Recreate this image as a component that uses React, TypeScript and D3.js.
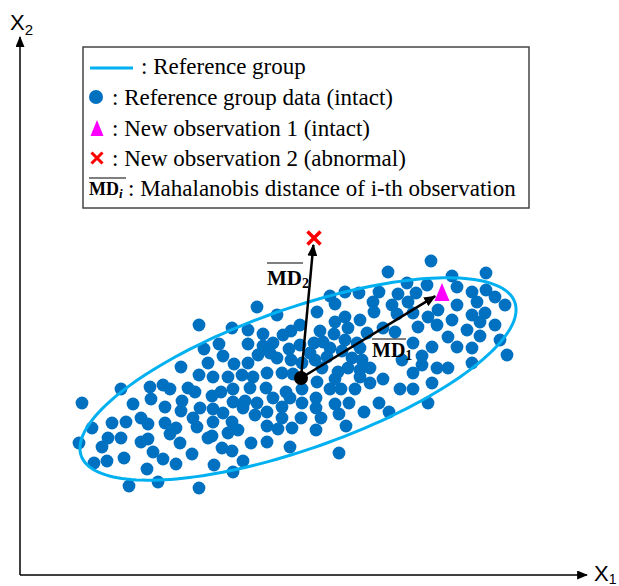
import React from "react";
import * as d3 from "d3";

// Reference group data (X1, X2)
const referenceData: [number, number][] = [
  [10.1, 18.6], [13.0, 18.8], [14.3, 19.0], [15.0, 18.6], [6.2, 17.2], [11.3, 17.1], [13.1, 17.6], [14.5, 16.8],
  [16.2, 17.4], [16.1, 16.4], [7.2, 14.7], [9.2, 15.2], [10.6, 15.3], [12.1, 15.7], [12.8, 15.1], [14.5, 15.2],
  [15.6, 14.7], [15.0, 14.1], [5.9, 13.2], [8.8, 13.7], [10.1, 13.7], [8.2, 12.8], [12.1, 13.3], [12.8, 13.6],
  [16.0, 13.2], [13.3, 12.3], [7.4, 11.2], [8.7, 11.4], [10.4, 11.7], [14.3, 11.6], [15.6, 11.1], [12.7, 10.6],
  [10.9, 8.9], [13.8, 9.3], [16.8, 18.7],
  [17.5, 18.3], [20.1, 18.3], [21.3, 18.6], [23.0, 18.7], [24.6, 18.7], [19.2, 17.9], [26.6, 18.3], [25.3, 17.7],
  [27.0, 17.7], [21.3, 17.3], [22.5, 17.4], [23.7, 17.2], [22.3, 16.7], [26.2, 16.8], [18.0, 16.7], [19.3, 16.6],
  [20.3, 16.2], [23.5, 16.0], [24.7, 16.3], [17.3, 15.7], [26.2, 15.7], [19.3, 15.3], [21.2, 15.3], [17.7, 14.8],
  [24.7, 14.9], [25.8, 14.6], [27.2, 14.7], [20.8, 14.2], [21.8, 14.5], [19.2, 13.9], [18.8, 13.7], [23.1, 13.2],
  [24.7, 13.3], [20.2, 12.7], [21.2, 12.4], [27.0, 12.8], [17.2, 12.1], [22.3, 11.4], [19.4, 11.0], [21.3, 10.3],
  [17.9, 8.7],
  [31.5, 19.6], [34.0, 19.8], [35.0, 19.2], [36.3, 19.6], [29.7, 19.3], [28.2, 18.6], [31.0, 18.6], [32.1, 18.6],
  [33.5, 18.6], [38.0, 18.6], [29.6, 17.7], [28.2, 17.2], [29.6, 16.7], [31.5, 17.1], [32.9, 17.2], [35.9, 17.2],
  [31.9, 16.1], [34.4, 16.3], [36.9, 16.3], [28.1, 15.7], [30.1, 15.7], [29.6, 14.5], [32.6, 14.9], [31.9, 12.2],
  [39.3, 18.6], [41.2, 19.2], [40.8, 17.2], [39.3, 20.2],
  [23.7, 26.8], [25.7, 26.0], [17.9, 25.0], [21.2, 24.7], [22.8, 24.5], [24.3, 24.1], [26.3, 24.0], [27.1, 24.4],
  [19.9, 23.1], [18.4, 22.6], [22.8, 23.1], [24.3, 22.9], [25.3, 23.2], [26.9, 22.6], [20.3, 21.9], [18.8, 21.2],
  [21.4, 21.1], [22.8, 21.2], [23.8, 22.0], [25.0, 22.2], [25.7, 21.7], [27.1, 21.5], [16.1, 20.8], [17.9, 20.0],
  [19.3, 19.8], [20.8, 19.8], [22.2, 20.0], [23.3, 19.8], [24.7, 20.2], [26.2, 20.2], [27.3, 20.1],
  [36.8, 30.3], [31.0, 27.9], [32.5, 28.3], [33.9, 28.2], [35.9, 28.3], [37.8, 28.1], [31.5, 27.1], [35.3, 27.3],
  [37.2, 27.0], [29.7, 26.3], [35.4, 26.3], [32.5, 25.8], [31.5, 25.3], [34.0, 25.5], [37.7, 26.1], [28.0, 25.0],
  [30.0, 24.4], [32.8, 24.7], [36.3, 24.7], [37.5, 24.3], [31.4, 24.1], [34.7, 24.2], [29.4, 23.2], [30.3, 23.3],
  [32.5, 23.5], [33.7, 23.2], [28.0, 23.0], [29.0, 22.2], [31.0, 22.7], [32.2, 22.4], [34.0, 22.7], [29.5, 21.5],
  [30.7, 21.8], [33.2, 21.7], [34.2, 21.5], [28.2, 21.2], [32.8, 20.7], [34.0, 20.5], [30.2, 20.7], [31.8, 20.3],
  [35.0, 20.7],
  [41.1, 31.4], [46.6, 30.2], [43.2, 29.9], [38.7, 29.2], [40.7, 29.0], [43.7, 28.8], [45.2, 28.3], [46.6, 28.5],
  [39.6, 28.2], [47.5, 27.8], [45.7, 27.3], [43.7, 27.0], [38.8, 27.3], [48.5, 27.0], [41.8, 26.5], [39.3, 26.2],
  [40.8, 25.8], [45.2, 26.0], [46.5, 26.2], [43.2, 25.5], [46.0, 25.3], [47.5, 25.0], [39.8, 24.8], [41.7, 25.0],
  [44.7, 24.5], [42.8, 23.8], [46.0, 23.9], [48.0, 23.5], [39.3, 23.2], [41.2, 22.8], [43.7, 22.8], [45.2, 22.7],
  [40.2, 21.9], [48.7, 22.0], [38.2, 21.5], [40.2, 21.0], [45.2, 21.2], [41.7, 20.7], [42.8, 20.7],
];

// Reference group ellipse: centre, semi-axes, rotation (degrees)
const ellipseCenter: [number, number] = [27.8, 19.6];
const ellipseAxes: [number, number] = [23, 7];
const ellipseAngle = 19.5;

// Group mean and new observations
const groupMean: [number, number] = [28.1, 19.7];
const newObservation1: [number, number] = [42.2, 28.3];
const newObservation2: [number, number] = [29.4, 33.7];

const legendLabels = [
  ": Reference group",
  ": Reference group data (intact)",
  ": New observation 1 (intact)",
  ": New observation 2 (abnormal)",
  ": Mahalanobis distance of i-th observation",
];

const X_DOMAIN: [number, number] = [0, 57];
const Y_DOMAIN: [number, number] = [0, 54];

const BLUE = "#0070C0";
const CYAN = "#00B0F0";
const MAGENTA = "#FF00FF";
const RED = "#FF0000";
const SERIF = "'Liberation Serif', 'Times New Roman', serif";
const SANS = "'Liberation Sans', Arial, sans-serif";

export default function App() {
  const W = 619;
  const H = 586;
  const x = d3.scaleLinear().domain(X_DOMAIN).range([20, 590]);
  const y = d3.scaleLinear().domain(Y_DOMAIN).range([575, 35]);

  const th = (ellipseAngle * Math.PI) / 180;
  const ts = d3.range(0, 2 * Math.PI, Math.PI / 90);
  const ellipsePts: [number, number][] = ts.map((t) => {
    const [a, b] = ellipseAxes;
    const ex = ellipseCenter[0] + a * Math.cos(t) * Math.cos(th) - b * Math.sin(t) * Math.sin(th);
    const ey = ellipseCenter[1] + a * Math.cos(t) * Math.sin(th) + b * Math.sin(t) * Math.cos(th);
    return [ex, ey];
  });
  const ellipsePath = d3
    .line<[number, number]>()
    .x((d) => x(d[0]))
    .y((d) => y(d[1]))
    .curve(d3.curveLinearClosed)(ellipsePts);

  const cx0 = x(groupMean[0]);
  const cy0 = y(groupMean[1]);
  const shorten = (p: [number, number], by: number) => {
    const px = x(p[0]);
    const py = y(p[1]);
    const dx = px - cx0;
    const dy = py - cy0;
    const L = Math.hypot(dx, dy);
    return [cx0 + (dx * (L - by)) / L, cy0 + (dy * (L - by)) / L];
  };
  const tip1 = shorten(newObservation1, 8);
  const tip2 = shorten(newObservation2, 7);

  const triPath = (cx: number, cy: number, w: number, h: number) =>
    `M${cx},${cy - h / 2} L${cx + w / 2},${cy + h / 2} L${cx - w / 2},${cy + h / 2} Z`;
  const crossPath = (cx: number, cy: number, s: number) =>
    `M${cx - s},${cy - s} L${cx + s},${cy + s} M${cx + s},${cy - s} L${cx - s},${cy + s}`;

  const ox = x(X_DOMAIN[0]);
  const oy = y(Y_DOMAIN[0]);
  const xEnd = x(X_DOMAIN[1]) - 3;
  const yEnd = y(Y_DOMAIN[1]) + 2;

  const n1x = x(newObservation1[0]);
  const n1y = y(newObservation1[1]);
  const n2x = x(newObservation2[0]);
  const n2y = y(newObservation2[1]);

  const rowY = [68, 97, 128, 158, 187];
  const baseY = [74, 105, 136, 166, 196];
  const textX = [141, 112, 112, 112, 128];

  return (
    <svg
      width={W}
      height={H}
      style={{ position: "absolute", left: 0, top: 0, background: "#fff" }}
    >
      <defs>
        <marker id="arr" viewBox="0 0 12 10" refX="11" refY="5" markerWidth="12" markerHeight="10"
          markerUnits="userSpaceOnUse" orient="auto">
          <path d="M0,0 L12,5 L0,10 Z" fill="#000" />
        </marker>
        <marker id="axarr" viewBox="0 0 12 10" refX="11" refY="5" markerWidth="12" markerHeight="9"
          markerUnits="userSpaceOnUse" orient="auto">
          <path d="M0,0 L12,5 L0,10 Z" fill="#000" />
        </marker>
      </defs>
      <rect x={0} y={0} width={W} height={H} fill="#fff" />

      {/* axes */}
      <line x1={ox} y1={oy} x2={xEnd} y2={oy} stroke="#000" strokeWidth={1.5} markerEnd="url(#axarr)" />
      <line x1={ox} y1={oy} x2={ox} y2={yEnd} stroke="#000" strokeWidth={1.5} markerEnd="url(#axarr)" />
      <text x={10} y={30} fontFamily={SANS} fontSize={22}>
        X<tspan fontSize={15} dy={5}>2</tspan>
      </text>
      <text x={594} y={581} fontFamily={SANS} fontSize={22}>
        X<tspan fontSize={14} dy={3}>1</tspan>
      </text>

      {/* data */}
      <g>
        {referenceData.map((d, i) => (
          <circle key={i} cx={x(d[0])} cy={y(d[1])} r={6.4} fill={BLUE} />
        ))}
      </g>
      <path d={ellipsePath || ""} fill="none" stroke={CYAN} strokeWidth={3} />

      {/* MD arrows */}
      <line x1={cx0} y1={cy0} x2={tip2[0]} y2={tip2[1]} stroke="#000" strokeWidth={2.5} markerEnd="url(#arr)" />
      <line x1={cx0} y1={cy0} x2={tip1[0]} y2={tip1[1]} stroke="#000" strokeWidth={2.5} markerEnd="url(#arr)" />
      <circle cx={cx0} cy={cy0} r={7} fill="#000" />
      <path d={triPath(n1x, n1y, 15, 18)} fill={MAGENTA} />
      <path d={crossPath(n2x, n2y, 6.5)} stroke={RED} strokeWidth={3.5} fill="none" />

      <text x={267} y={285} fontFamily={SERIF} fontSize={21} fontWeight="bold">
        MD<tspan fontSize={14} dy={3}>2</tspan>
      </text>
      <line x1={267} x2={303} y1={263} y2={263} stroke="#000" strokeWidth={1.2} />
      <text x={372} y={357} fontFamily={SERIF} fontSize={20} fontWeight="bold">
        MD<tspan fontSize={14} dy={3}>1</tspan>
      </text>
      <line x1={372} x2={406} y1={339} y2={339} stroke="#000" strokeWidth={1.2} />

      {/* legend */}
      <rect x={83} y={47} width={446} height={161} fill="#fff" stroke="#444" strokeWidth={1.5} />
      <line x1={90} x2={133} y1={rowY[0]} y2={rowY[0]} stroke={CYAN} strokeWidth={3} />
      <circle cx={96} cy={rowY[1]} r={7} fill={BLUE} />
      <path d={triPath(97, rowY[2], 13, 16)} fill={MAGENTA} />
      <path d={crossPath(97, rowY[3], 5.5)} stroke={RED} strokeWidth={3} fill="none" />
      <text x={89} y={195} fontFamily={SERIF} fontSize={18} fontWeight="bold">
        MD<tspan fontSize={13} fontStyle="italic" dy={3}>i</tspan>
      </text>
      <line x1={89} x2={126} y1={178} y2={178} stroke="#000" strokeWidth={1.2} />
      {legendLabels.map((lab, i) => (
        <text key={i} x={textX[i]} y={baseY[i]} fontFamily={SERIF} fontSize={23} fill="#000">
          {lab}
        </text>
      ))}
    </svg>
  );
}
